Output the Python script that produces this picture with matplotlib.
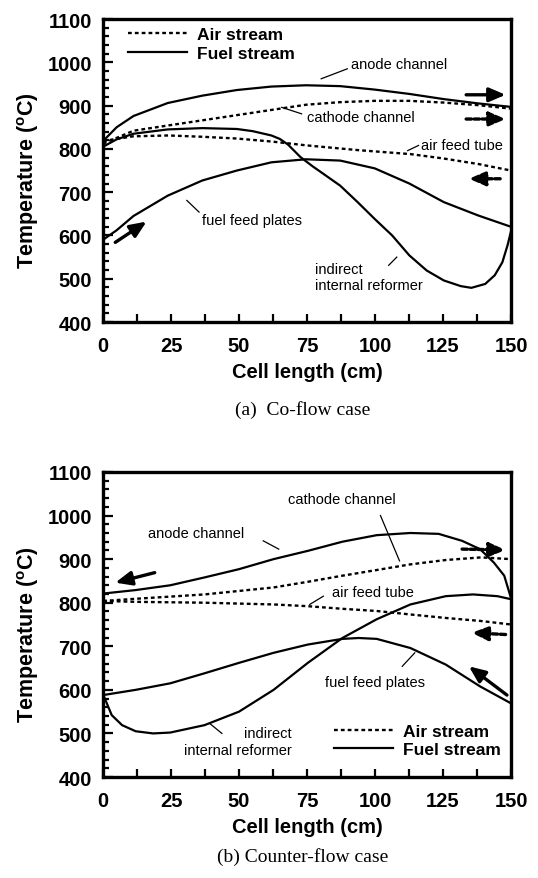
import matplotlib
matplotlib.use("Agg")
import matplotlib.pyplot as plt
from matplotlib.lines import Line2D

plt.rcParams["font.family"] = ["Liberation Sans", "DejaVu Sans"]

# ---- (a) Co-flow case ----
co_anode_x = [0, 5, 11.2, 23.8, 36.5, 49.2, 61.9, 74.6, 87.2, 99.9, 112.6, 125.3, 138, 150]
co_anode_t = [818, 850, 876, 906, 923, 936, 944, 947, 945, 937, 927, 915, 905, 897]

co_cathode_x = [0, 11.2, 23.8, 36.5, 49.2, 61.9, 74.6, 87.2, 99.9, 112.6, 125.3, 138, 150]
co_cathode_t = [812, 842, 854, 866, 878, 890, 902, 908, 911, 911, 907, 901, 893]

co_airtube_x = [0, 11, 24, 36.5, 49, 62, 75, 94, 113, 125, 138, 150]
co_airtube_t = [818, 829, 831, 828, 824, 817, 808, 797, 788, 778, 765, 750]

co_reformer_x = [0, 5, 11.2, 23.8, 36.5, 49.2, 55, 61.9, 65, 68, 72.6, 77, 82, 87.2, 93.6,
                 99.9, 106.3, 112.6, 119, 125.3, 131.5, 135.4, 140.5, 144, 146.8, 148.7, 150]
co_reformer_t = [805, 822, 835, 845, 848, 846, 841, 831, 823, 810, 781, 760, 738, 715, 677,
                 638, 600, 554, 519, 496, 483, 479, 488, 508, 538, 577, 610]

co_feed_x = [0, 5, 11.2, 23.8, 36.5, 49.2, 61.9, 74.6, 87.2, 99.9, 112.6, 125.3, 138, 150]
co_feed_t = [590, 612, 645, 692, 727, 750, 769, 776, 773, 755, 720, 677, 646, 620]

# ---- (b) Counter-flow case ----
cf_anode_x = [0, 12, 24.7, 37.3, 50, 62.7, 75.3, 88, 100.6, 113, 123.4, 132, 138.6, 143.7, 147.5, 150]
cf_anode_t = [821, 829, 840, 858, 877, 900, 919, 940, 955, 960, 958, 942, 923, 892, 862, 810]

cf_cathode_x = [0, 12, 24.7, 37.3, 50, 62.7, 75.3, 88, 100.6, 113, 126, 139, 150]
cf_cathode_t = [804, 809, 814, 819, 827, 835, 848, 862, 875, 888, 898, 904, 900]

cf_airtube_x = [0, 12, 37.3, 62.7, 75.3, 88, 100.6, 113, 126, 139, 150]
cf_airtube_t = [804, 802, 800, 796, 792, 786, 781, 773, 765, 758, 750]

cf_reformer_x = [0, 3.2, 7, 12, 18.4, 24.7, 37.3, 50, 62.7, 75.3, 88, 100.6, 113, 126, 136, 145, 150]
cf_reformer_t = [590, 542, 519, 505, 500, 502, 519, 550, 600, 662, 719, 762, 796, 815, 819, 815, 808]

cf_feed_x = [0, 12, 24.7, 37.3, 50, 62.7, 75.3, 88, 94, 100.6, 113, 126, 138.6, 150]
cf_feed_t = [588, 600, 615, 638, 662, 685, 704, 717, 719, 717, 696, 658, 608, 569]

x_ticks = [0, 25, 50, 75, 100, 125, 150]
y_ticks = [400, 500, 600, 700, 800, 900, 1000, 1100]

DOT = (0, (1.6, 1.3))
SOLID_LW = 1.6
DOT_LW = 1.7


def style_axes(ax):
    ax.set_xlim(0, 150)
    ax.set_ylim(400, 1100)
    ax.set_xticks(x_ticks)
    ax.set_yticks(y_ticks)
    ax.set_xticks([12.5 + 25 * i for i in range(6)], minor=True)
    ax.set_yticks([y for y in range(400, 1101, 20) if y % 100], minor=True)
    ax.tick_params(axis="both", which="both", direction="in", top=False, right=False,
                   width=1.6, labelsize=14.5)
    ax.tick_params(axis="x", which="both", length=6, pad=10)
    ax.tick_params(axis="y", which="major", length=7, pad=8)
    ax.tick_params(axis="y", which="minor", length=4)
    for lab in ax.get_xticklabels() + ax.get_yticklabels():
        lab.set_fontweight("bold")
    for sp in ax.spines.values():
        sp.set_linewidth(2.4)
    ax.set_ylabel("Temperature ($\\mathregular{^{o}}$C)", fontsize=15.5, fontweight="bold",
                  va="center")
    ax.yaxis.set_label_coords(-0.183, 0.47)
    ax.set_xlabel("Cell length (cm)", fontsize=14.5, fontweight="bold", va="center")
    ax.xaxis.set_label_coords(0.5, -0.163)


def arrow(ax, start, end, dashed=False):
    ax.annotate("", xy=end, xytext=start,
                arrowprops=dict(arrowstyle="-|>,head_length=0.7,head_width=0.3",
                                lw=2.4, color="black", shrinkA=0, shrinkB=0,
                                linestyle=(0, (1.6, 0.8)) if dashed else "-",
                                mutation_scale=14))


def label(ax, text, xy, leader_from, leader_to, ha="left"):
    ax.text(xy[0], xy[1], text, fontsize=10.5, ha=ha, va="center", linespacing=1.25)
    ax.plot([leader_from[0], leader_to[0]], [leader_from[1], leader_to[1]],
            color="black", lw=0.9)


fig = plt.figure(figsize=(5.38, 8.79), dpi=100)
ax1 = fig.add_axes([0.1915, 0.6325, 0.7584, 0.3447])
ax2 = fig.add_axes([0.1915, 0.1149, 0.7584, 0.347])

# Co-flow
ax1.plot(co_anode_x, co_anode_t, color="black", lw=SOLID_LW)
ax1.plot(co_cathode_x, co_cathode_t, color="black", lw=DOT_LW, linestyle=DOT)
ax1.plot(co_airtube_x, co_airtube_t, color="black", lw=DOT_LW, linestyle=DOT)
ax1.plot(co_reformer_x, co_reformer_t, color="black", lw=SOLID_LW)
ax1.plot(co_feed_x, co_feed_t, color="black", lw=SOLID_LW)

label(ax1, "anode channel", (91, 996), (89.8, 985), (80.2, 962))
label(ax1, "cathode channel", (75, 873), (73, 881), (65.7, 896))
label(ax1, "air feed tube", (117, 809), (116, 808), (112, 796))
label(ax1, "fuel feed plates", (36.5, 635), (35.3, 654), (30.8, 681))
label(ax1, "indirect\ninternal reformer", (78, 504), (105, 531), (108, 550))

arrow(ax1, (133.5, 925), (148, 925))
arrow(ax1, (133.5, 869), (148, 869), dashed=True)
arrow(ax1, (146, 731), (134.5, 731), dashed=True)
arrow(ax1, (4.5, 584), (16, 632))

style_axes(ax1)

handles = [Line2D([], [], color="black", lw=DOT_LW, linestyle=DOT),
           Line2D([], [], color="black", lw=SOLID_LW)]
ax1.legend(handles, ["Air stream", "Fuel stream"], loc="upper left",
           bbox_to_anchor=(0.06, 0.975), frameon=False, borderpad=0, borderaxespad=0,
           handlelength=3.4, handletextpad=0.6, labelspacing=0.22,
           prop={"size": 12.5, "weight": "bold"})

# Counter-flow
ax2.plot(cf_anode_x, cf_anode_t, color="black", lw=SOLID_LW)
ax2.plot(cf_cathode_x, cf_cathode_t, color="black", lw=DOT_LW, linestyle=DOT)
ax2.plot(cf_airtube_x, cf_airtube_t, color="black", lw=DOT_LW, linestyle=DOT)
ax2.plot(cf_reformer_x, cf_reformer_t, color="black", lw=SOLID_LW)
ax2.plot(cf_feed_x, cf_feed_t, color="black", lw=SOLID_LW)

label(ax2, "cathode channel", (68, 1038), (102, 1000), (109, 896))
label(ax2, "anode channel", (16.5, 961), (58.9, 942), (64.6, 923))
label(ax2, "air feed tube", (84, 825), (81, 815), (76, 796))
label(ax2, "fuel feed plates", (81.5, 617), (110, 654), (114.6, 685))
label(ax2, "indirect\ninternal reformer", (69.5, 481), (43.7, 500), (39.2, 523), ha="right")
ax2.texts[-1].set_multialignment("right")

arrow(ax2, (19, 869), (4.5, 846))
arrow(ax2, (132, 923), (148, 921), dashed=True)
arrow(ax2, (148, 727), (135.5, 731), dashed=True)
arrow(ax2, (148.5, 588), (134.5, 654))

style_axes(ax2)

ax2.legend(handles, ["Air stream", "Fuel stream"], loc="lower left",
           bbox_to_anchor=(0.565, 0.065), frameon=False, borderpad=0, borderaxespad=0,
           handlelength=3.4, handletextpad=0.6, labelspacing=0.18,
           prop={"size": 12.5, "weight": "bold"})

fig.text(0.5625, 1 - 410 / 879, "(a)  Co-flow case", ha="center", va="center",
         fontsize=14, family="Liberation Serif")
fig.text(0.5625, 1 - 857 / 879, "(b) Counter-flow case", ha="center", va="center",
         fontsize=14, family="Liberation Serif")

fig.savefig("out.png", dpi=100)
